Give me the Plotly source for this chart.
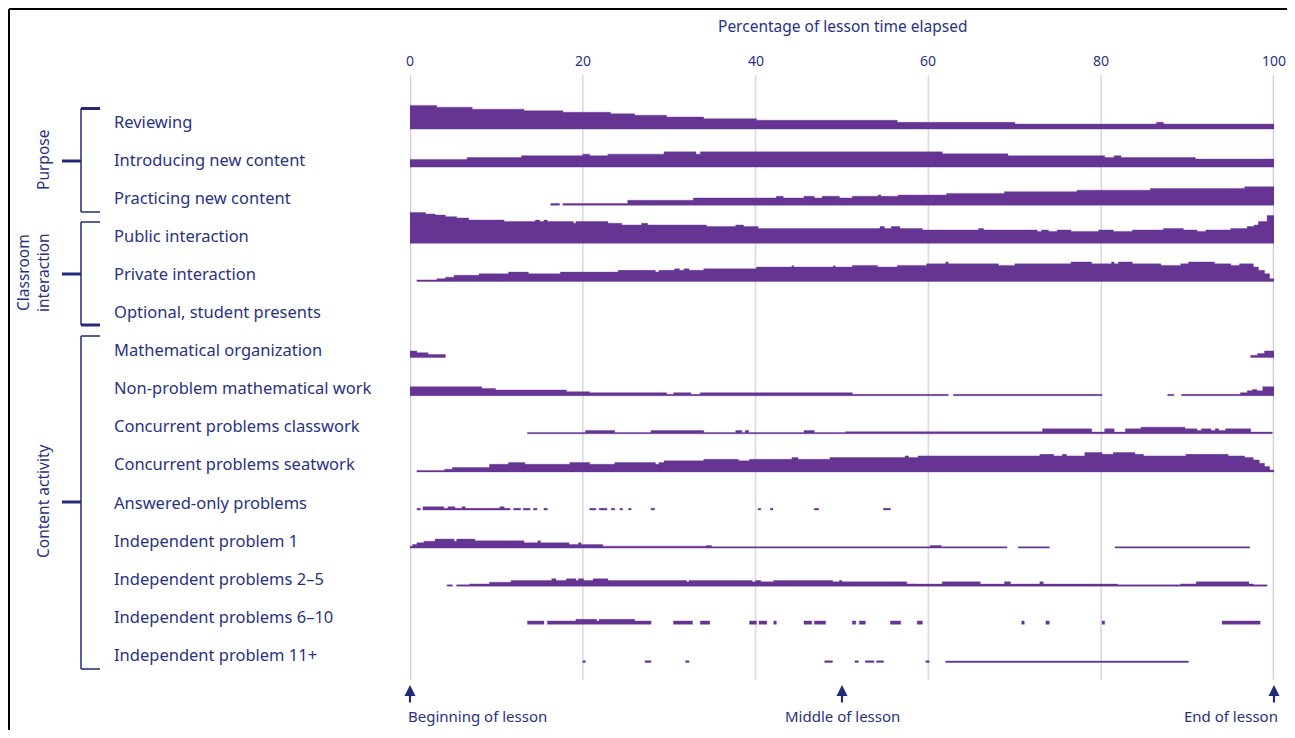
import plotly.graph_objects as go

# ---------------- data ----------------
ROW_LABELS = [
    "Reviewing", "Introducing new content", "Practicing new content",
    "Public interaction", "Private interaction", "Optional, student presents",
    "Mathematical organization", "Non-problem mathematical work",
    "Concurrent problems classwork", "Concurrent problems seatwork",
    "Answered-only problems", "Independent problem 1",
    "Independent problems 2\u20135", "Independent problems 6\u201310",
    "Independent problem 11+",
]
X_TICKS = [0, 20, 40, 60, 80, 100]
MARKERS = [0, 50, 100]
MARKER_LABELS = ["Beginning of lesson", "Middle of lesson", "End of lesson"]
GROUPS = ["Purpose", "Classroom<br>interaction", "Content activity"]

# each row: breakpoints (% of lesson time) and share of lessons (%) between them
REVIEWING_EDGES = [0, 3.1, 7.2, 13.2, 17.7, 23.2, 26.0, 29.7, 34.0, 40.1, 56.4, 70.0, 86.4, 87.2, 100]
REVIEWING_VALUES = [62, 57, 52, 48, 44, 40, 36, 31.5, 27, 23, 17.5, 13, 18, 13]

INTRODUCING_EDGES = [0, 6.6, 12.9, 20.0, 20.8, 22.9, 29.4, 33.1, 33.6, 61.6, 69.2, 80.4, 81.5, 82.3, 90.9, 100]
INTRODUCING_VALUES = [20, 25, 30, 34, 30, 34, 40, 34, 40, 35, 30, 25, 30, 25, 21]

PRACTICING_EDGES = [16.3, 17.3, 17.7, 25.2, 32.8, 42.4, 43.2, 45.6, 46.8, 47.7, 49.7, 51.2, 54.2, 54.5, 56.5,
                    62.1, 68.8, 77.2, 85.7, 96.6, 100]
PRACTICING_VALUES = [4.4, None, 4.4, 13, 19, 23.6, 19, 23.6, 19, 23.6, 19, 23.6, 27, 23.6, 26.5,
                     31, 35.5, 39.5, 44, 48.5]

PUBLIC_EDGES = [0, 1.8, 2.9, 4.1, 5.4, 6.8, 10.9, 14.5, 15.0, 15.5, 15.9, 18.9, 19.2, 22.9, 24.5, 26.8, 27.5,
                34.3, 37.7, 38.6, 40.3, 54.4, 54.9, 55.7, 56.7, 59.3, 65.8, 66.4, 72.6, 73.1, 73.9, 74.9,
                76.5, 79.7, 81.4, 83.6, 87.2, 89.5, 91.1, 92.1, 95.0, 96.9, 97.7, 98.2, 99.2, 100]
PUBLIC_VALUES = [81, 77, 74, 70, 66.5, 61, 57, 61, 57, 61, 57, 52.5, 57, 52.5, 48, 52.5,
                 48, 44, 48, 44, 39, 44, 39, 44, 39, 35, 39, 35, 31, 35, 31,
                 35, 31, 35, 31, 35, 39, 35, 31, 35, 39, 44, 48, 57, 73]

PRIVATE_EDGES = [0.8, 3.1, 4.1, 5.1, 8.0, 11.4, 13.7, 17.4, 24.1, 28.4, 28.8, 30.6, 31.2, 31.7, 32.3, 34.0,
                 40.1, 44.2, 44.4, 49.0, 49.2, 51.2, 54.1, 56.4, 59.8, 62.0, 62.3, 68.1, 70.0, 76.5, 78.9,
                 81.2, 81.5, 82.0, 83.6, 86.9, 89.2, 90.1, 93.1, 95.0, 96.0, 97.6, 98.2, 98.9, 99.5, 100]
PRIVATE_VALUES = [4, 7, 11, 16, 20, 24.5, 20, 24.5, 29, 24.5, 29, 33, 29, 33, 29,
                  33, 37.6, 41, 37.6, 41, 37.6, 42, 37.6, 42, 46, 51, 46, 42, 46, 51,
                  46, 51, 46, 51, 46, 42, 46, 51, 46, 42, 46, 37.6, 29, 20, 7]

OPTIONAL_EDGES = []
OPTIONAL_VALUES = []

MATH_ORG_EDGES = [0, 0.8, 2.1, 4.1, 97.3, 98.1, 98.9, 100]
MATH_ORG_VALUES = [17.5, 13, 8, None, 6, 10.5, 17.5]

NON_PROBLEM_EDGES = [0, 8.3, 9.9, 18.1, 20.8, 29.7, 30.5, 32.5, 33.6, 51.2, 62.3, 62.9, 80.1, 87.7, 88.4,
                     89.3, 96.1, 96.9, 97.5, 98.0, 98.7, 100]
NON_PROBLEM_VALUES = [23.6, 19, 15, 10.5, 8, 3.5, 8, 3.5, 8, 3.5, None, 3.5, None, 3.5, None,
                      3.5, 8, 13, 16.6, 13, 23.6]

CLASSWORK_EDGES = [13.6, 20.3, 23.7, 27.9, 34.0, 37.7, 38.4, 38.8, 39.2, 45.6, 46.8, 50.4, 73.2, 78.9,
                   80.4, 81.5, 82.8, 84.6, 89.7, 91.1, 91.6, 92.7, 93.2, 93.6, 94.4, 97.3, 99.8]
CLASSWORK_VALUES = [3.5, 8.75, 3.5, 8.75, 3.5, 8.75, 3.5, 8.75, 3.5, 8.75, 3.5, 5.5, 13,
                    4.4, 13, 4.4, 13, 17.5, 13, 8.75, 13, 8.75, 13, 8.75, 13, 4.4]

SEATWORK_EDGES = [0.8, 4.0, 4.9, 9.2, 11.4, 13.3, 18.5, 20.8, 23.7, 28.4, 28.8, 29.4, 34.0, 38.0, 39.3,
                  44.2, 44.9, 48.6, 57.3, 57.7, 58.8, 72.9, 74.5, 75.5, 76.0, 78.1, 80.1, 81.4, 83.9,
                  84.9, 89.8, 94.7, 96.6, 97.6, 98.3, 98.9, 99.5, 100]
SEATWORK_VALUES = [3.5, 7, 11.4, 20, 24.5, 20, 24.5, 20, 24.5, 20, 24.5, 29, 33, 29,
                   33, 37.6, 33, 37.6, 42, 37.6, 42, 46, 42, 46, 42, 51, 46, 51,
                   46, 42, 46, 42, 37.6, 31.5, 22.7, 14, 5]

ANSWERED_EDGES = [0.8, 1.2, 1.5, 3.9, 4.4, 5.2, 6.0, 6.4, 10.4, 10.9, 11.6, 12.0, 12.8, 13.1, 13.9,
                  14.3, 14.7, 15.5, 15.9, 20.8, 21.5, 21.9, 22.8, 23.3, 23.7, 24.3, 24.6, 25.3, 25.6,
                  27.9, 28.3, 40.3, 40.6, 41.7, 42.0, 46.8, 47.3, 54.8, 55.6]
ANSWERED_VALUES = [4.4, None, 8.75, 4.4, 8.75, 4.4, 8.75, 4.4, 8.75, 4.4, None, 4.4, None, 4.4,
                   None, 4.4, None, 4.4, None, 4.4, None, 4.4, None, 4.4, None, 4.4, None, 4.4,
                   None, 4.4, None, 4.4, None, 4.4, None, 4.4, None, 4.4]

IP1_EDGES = [0, 0.3, 0.8, 1.6, 2.9, 5.1, 5.4, 7.5, 13.2, 14.8, 15.1, 18.4, 19.5, 19.8, 22.3, 34.3, 34.9,
             60.2, 61.5, 69.1, 70.4, 74.0, 81.6, 97.2]
IP1_VALUES = [5, 9.6, 14, 18, 23.6, 18, 23.6, 19, 14, 19, 14, 9.6, 14, 9.6, 5, 7,
              3.5, 7, 3.5, None, 3.5, None, 3.5]

IP2_5_EDGES = [4.3, 4.9, 5.4, 6.9, 9.2, 11.7, 16.4, 16.9, 18.1, 19.2, 19.5, 20.1, 21.2, 22.9, 32.0, 32.3,
               39.6, 40.0, 40.6, 42.1, 48.9, 49.7, 50.0, 57.5, 58.4, 61.6, 66.0, 68.8, 69.5, 72.9, 73.3,
               81.9, 89.2, 91.0, 97.1, 97.6, 99.2]
IP2_5_VALUES = [3.5, None, 3.5, 6, 10.5, 15, 19.5, 15, 19.5, 15, 19.5, 15, 19.5, 15, 11.4,
                15, 11.4, 15, 11.4, 15, 11.4, 15, 11.4, 6, 5.5, 11.4, 5.5, 11.4, 5.5, 11.4,
                5.5, 3.5, 6, 11.4, 6, 3.5]

IP6_10_EDGES = [13.6, 15.5, 15.9, 19.2, 21.6, 21.9, 26.0, 27.9, 30.5, 32.7, 33.6, 34.7, 39.3, 40.1,
                40.4, 41.3, 42.1, 42.4, 45.6, 46.5, 46.8, 48.1, 51.2, 51.6, 52.0, 52.7, 55.6, 56.8,
                58.7, 59.3, 70.8, 71.1, 73.6, 74.0, 80.1, 80.4, 94.0, 98.4]
IP6_10_VALUES = [8.75, None, 8.75, 13, 8.75, 13, 8.75,
                 None, 8.75, None, 8.75, None, 8.75, None, 8.75, None, 8.75, None, 8.75,
                 None, 8.75, None, 8.75, None, 8.75, None, 8.75, None, 8.75, None, 8.75,
                 None, 8.75, None, 8.75, None, 8.75]

IP11_EDGES = [20.0, 20.3, 27.2, 27.9, 31.9, 32.3, 48.0, 48.9, 51.5, 51.9, 52.7, 53.7, 54.0, 54.8,
              59.7, 60.1, 62.0, 90.1]
IP11_VALUES = [4.4, None, 4.4, None, 4.4, None, 4.4, None, 4.4, None, 4.4, None, 4.4, None,
               4.4, None, 3.5]

ROWS = [
    (REVIEWING_EDGES, REVIEWING_VALUES), (INTRODUCING_EDGES, INTRODUCING_VALUES),
    (PRACTICING_EDGES, PRACTICING_VALUES), (PUBLIC_EDGES, PUBLIC_VALUES),
    (PRIVATE_EDGES, PRIVATE_VALUES), (OPTIONAL_EDGES, OPTIONAL_VALUES),
    (MATH_ORG_EDGES, MATH_ORG_VALUES), (NON_PROBLEM_EDGES, NON_PROBLEM_VALUES),
    (CLASSWORK_EDGES, CLASSWORK_VALUES), (SEATWORK_EDGES, SEATWORK_VALUES),
    (ANSWERED_EDGES, ANSWERED_VALUES), (IP1_EDGES, IP1_VALUES),
    (IP2_5_EDGES, IP2_5_VALUES), (IP6_10_EDGES, IP6_10_VALUES), (IP11_EDGES, IP11_VALUES),
]

# ---------------- style ----------------
PAGE_W, PAGE_H = 1295, 738
OFF = 8                                       # default page margin of the html body
W, H = PAGE_W - 2 * OFF, PAGE_H - 2 * OFF
PL, PR, PT, PB = 410, 1274, 75, 680           # plot area, page pixels
PURPLE = "#663493"
NAVY = "#222a78"
TEXT = "#2a327f"
GRID = "#dcd6ea"
FONT = "Noto Sans"
ROW_STEP = 100                                # one row spacing in value units
PX_PER_UNIT = 38.1 / ROW_STEP
ROW0_PX = 129
Y_TOP = (ROW0_PX - PT) / PX_PER_UNIT
Y_BOT = -(PB - ROW0_PX) / PX_PER_UNIT


def pxx(px):
    return (px - PL) / (PR - PL)


def pxy(py):
    return (PB - py) / (PB - PT)


fig = go.Figure()
for i, (edges, vals) in enumerate(ROWS):
    base = -ROW_STEP * i
    xs, ys = [], []
    run = []
    segs = list(zip(edges[:-1], edges[1:], vals)) + [(None, None, None)]
    for a, b, v in segs:
        if v is None:
            if run:
                px_, py_ = [run[0][0]], [base]
                for ra, rb, rv in run:
                    px_ += [ra, rb]
                    py_ += [base + rv, base + rv]
                px_ += [run[-1][1], run[0][0]]
                py_ += [base, base]
                xs += px_ + [None]
                ys += py_ + [None]
            run = []
        else:
            run.append((a, b, v))
    if not xs:
        continue
    fig.add_trace(go.Scatter(
        x=xs, y=ys, mode="lines", fill="toself", fillcolor=PURPLE,
        line=dict(width=0.4, color=PURPLE), hoverinfo="skip", showlegend=False,
    ))

shapes = []
for t in X_TICKS:
    edge = t in (X_TICKS[0], X_TICKS[-1])
    shapes.append(dict(type="line", xref="x", yref="paper", x0=t, x1=t, y0=0, y1=1,
                       line=dict(color="#d3cbe3" if edge else GRID, width=2.5 if edge else 1.6),
                       layer="below"))

# outer frame (top and left edges)
shapes.append(dict(type="line", xref="paper", yref="paper", x0=pxx(9), x1=pxx(PAGE_W + 5),
                   y0=pxy(9), y1=pxy(9), line=dict(color="black", width=2)))
shapes.append(dict(type="line", xref="paper", yref="paper", x0=pxx(9), x1=pxx(9),
                   y0=pxy(9), y1=pxy(PAGE_H + 5), line=dict(color="black", width=2)))

# brackets: (top px, bottom px, mid px, top width, bottom width)
BRACKETS = [(108.5, 212, 161, 3, 1.5), (222, 325, 274, 1.5, 3), (336, 669, 502, 1.5, 1.5)]
BX, BX2, BXM = 81, 100, 62
for top, bot, mid, wt, wb in BRACKETS:
    shapes.append(dict(type="line", xref="paper", yref="paper", x0=pxx(BX), x1=pxx(BX),
                       y0=pxy(top), y1=pxy(bot), line=dict(color=NAVY, width=1.5)))
    shapes.append(dict(type="line", xref="paper", yref="paper", x0=pxx(BX), x1=pxx(BX2),
                       y0=pxy(top), y1=pxy(top), line=dict(color=NAVY, width=wt)))
    shapes.append(dict(type="line", xref="paper", yref="paper", x0=pxx(BX), x1=pxx(BX2),
                       y0=pxy(bot), y1=pxy(bot), line=dict(color=NAVY, width=wb)))
    shapes.append(dict(type="line", xref="paper", yref="paper", x0=pxx(BXM), x1=pxx(BX),
                       y0=pxy(mid), y1=pxy(mid), line=dict(color=NAVY, width=3)))

ann = []
for i, lab in enumerate(ROW_LABELS):
    ann.append(dict(text=lab, xref="paper", yref="y", x=pxx(112), y=-ROW_STEP * i + 21,
                    xanchor="left", yanchor="middle", showarrow=False,
                    font=dict(family=FONT, size=16.5, color=TEXT)))

for t in X_TICKS:
    ann.append(dict(text=str(t), xref="x", yref="paper", x=t, y=pxy(60), xanchor="center",
                    yanchor="middle", showarrow=False, font=dict(family=FONT, size=14, color=TEXT)))
ann.append(dict(text="Percentage of lesson time elapsed", xref="x", yref="paper", x=50, y=pxy(26),
                xanchor="center", yanchor="middle", showarrow=False,
                font=dict(family=FONT, size=15.5, color=TEXT)))

# group labels
GROUP_POS = [(43, 160), (33, 273), (43, 502)]
for g, (gx, gy) in zip(GROUPS, GROUP_POS):
    ann.append(dict(text=g, xref="paper", yref="paper", x=pxx(gx), y=pxy(gy), textangle=-90,
                    xanchor="center", yanchor="middle", showarrow=False,
                    font=dict(family=FONT, size=15.5, color=TEXT)))

# lesson markers
anchors = ["left", "center", "right"]
xshift = [-4, 0, 6]
for m, lab, an, xs_ in zip(MARKERS, MARKER_LABELS, anchors, xshift):
    ann.append(dict(text="", xref="x", yref="paper", x=m, y=pxy(685), ax=0, ay=19,
                    showarrow=True, arrowhead=2, arrowsize=1, arrowwidth=2.2, arrowcolor=NAVY))
    ann.append(dict(text=lab, xref="x", yref="paper", x=m, y=pxy(716), xanchor=an, xshift=xs_,
                    yanchor="middle", showarrow=False, font=dict(family=FONT, size=15, color=TEXT)))

fig.update_layout(
    width=W, height=H,
    margin=dict(l=PL - OFF, r=W - (PR - OFF), t=PT - OFF, b=H - (PB - OFF), pad=0),
    paper_bgcolor="white", plot_bgcolor="white",
    xaxis=dict(range=[0, 100], showgrid=False, zeroline=False, showticklabels=False,
               ticks="", showline=False, fixedrange=True),
    yaxis=dict(range=[Y_BOT, Y_TOP], visible=False, fixedrange=True),
    shapes=shapes, annotations=ann,
)

fig.write_html("out.html")
